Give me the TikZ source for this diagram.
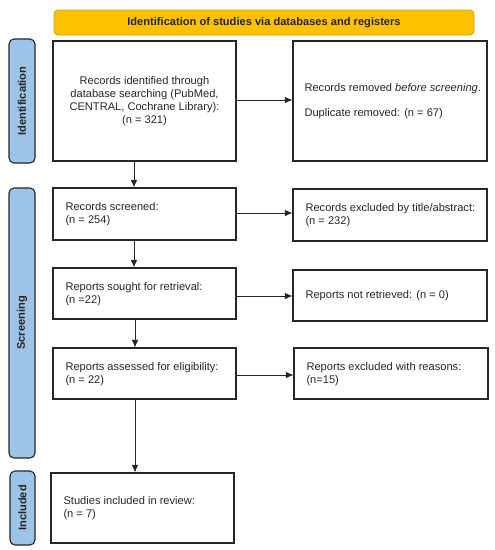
\documentclass[tikz,border=0pt]{standalone}
\usepackage{fontspec}
\setmainfont{Liberation Sans}
\usetikzlibrary{arrows.meta}
\definecolor{bannerfill}{HTML}{FFC000}
\definecolor{bannerline}{HTML}{D9A300}
\definecolor{sidefill}{HTML}{9DC3E6}
\definecolor{sideline}{HTML}{262626}
\begin{document}
\begin{tikzpicture}[x=1pt,y=-1pt,
  every node/.style={font=\fontsize{11.1}{12.8}\selectfont, text=black!85},
  box/.style={draw=black!85, line width=1.1pt, fill=white, inner sep=0pt},
  banner/.style={draw=bannerline, fill=bannerfill, line width=0.8pt, rounded corners=4pt, inner sep=0pt},
  side/.style={draw=sideline, fill=sidefill, line width=1.1pt, rounded corners=5pt, inner sep=0pt},
  sidelabel/.style={rotate=90, font=\fontsize{11.1}{12.8}\selectfont\bfseries},
  arr/.style={-{Latex[length=7.5pt,width=6.5pt]}, line width=0.8pt, draw=black!85}]
\useasboundingbox (0,0) rectangle (495,550);
\fill[white] (0,0) rectangle (495,550);
% banner
\draw[banner] (54,10) rectangle (474,35);
\node (banner) at (264,22.5) {\bfseries Identification of studies via databases and registers};
% sidebars
\draw[side] (9,39) rectangle (35,163);
\node[sidelabel] (sid) at (22,101) {Identification};
\draw[side] (9,188) rectangle (35,458);
\node[sidelabel] (ssc) at (22,323) {Screening};
\draw[side] (10,471) rectangle (35,545);
\node[sidelabel] (sin) at (22.5,508) {Included};
% left boxes
\node[box, minimum width=183pt, minimum height=120pt, align=center] (b1) at (144.5,101)
  {Records identified through\\database searching (PubMed,\\CENTRAL, Cochrane Library):\\(n = 321)};
\node[box, minimum width=183pt, minimum height=52pt] (b2) at (144.5,214) {};
\node[anchor=west, align=left] at (62,214.5) {Records screened:\\(n = 254)};
\node[box, minimum width=183pt, minimum height=51pt] (b3) at (144.5,293.5) {};
\node[anchor=west, align=left] at (62,294) {Reports sought for retrieval:\\(n =22)};
\node[box, minimum width=183pt, minimum height=51pt] (b4) at (144.5,373.5) {};
\node[anchor=west, align=left] at (62,374) {Reports assessed for eligibility:\\(n = 22)};
\node[box, minimum width=183pt, minimum height=70pt] (b5) at (142.5,508) {};
\node[anchor=west, align=left] at (60,508.5) {Studies included in review:\\(n = 7)};
% right boxes
\node[box, minimum width=194pt, minimum height=120pt] (r1) at (390,101) {};
\node[anchor=west, align=left] at (301,88.5) {Records removed \textit{before screening}.};
\node[anchor=west, align=left] at (301,114) {Duplicate removed: (n = 67)};
\node[box, minimum width=194pt, minimum height=52pt] (r2) at (390,215) {};
\node[anchor=west, align=left] at (302,215) {Records excluded by title/abstract:\\(n = 232)};
\node[box, minimum width=194pt, minimum height=51pt] (r3) at (390,295.5) {};
\node[anchor=west, align=left] at (302,296) {Reports not retrieved: (n = 0)};
\node[box, minimum width=194pt, minimum height=51pt] (r4) at (391,373.5) {};
\node[anchor=west, align=left] at (303,374) {Reports excluded with reasons:\\(n=15)};
% arrows
\draw[arr] (b1.east |- 0,100) -- (r1.west |- 0,100);
\draw[arr] (b2.east |- 0,213) -- (r2.west |- 0,213);
\draw[arr] (b3.east |- 0,296) -- (r3.west |- 0,296);
\draw[arr] (b4.east |- 0,375) -- (r4.west |- 0,375);
\draw[arr] (b1.south -| 134,0) -- (b2.north -| 134,0);
\draw[arr] (b2.south -| 134,0) -- (b3.north -| 134,0);
\draw[arr] (b3.south -| 135,0) -- (b4.north -| 135,0);
\draw[arr] (b4.south -| 135,0) -- (b5.north -| 135,0);
\end{tikzpicture}
\end{document}
